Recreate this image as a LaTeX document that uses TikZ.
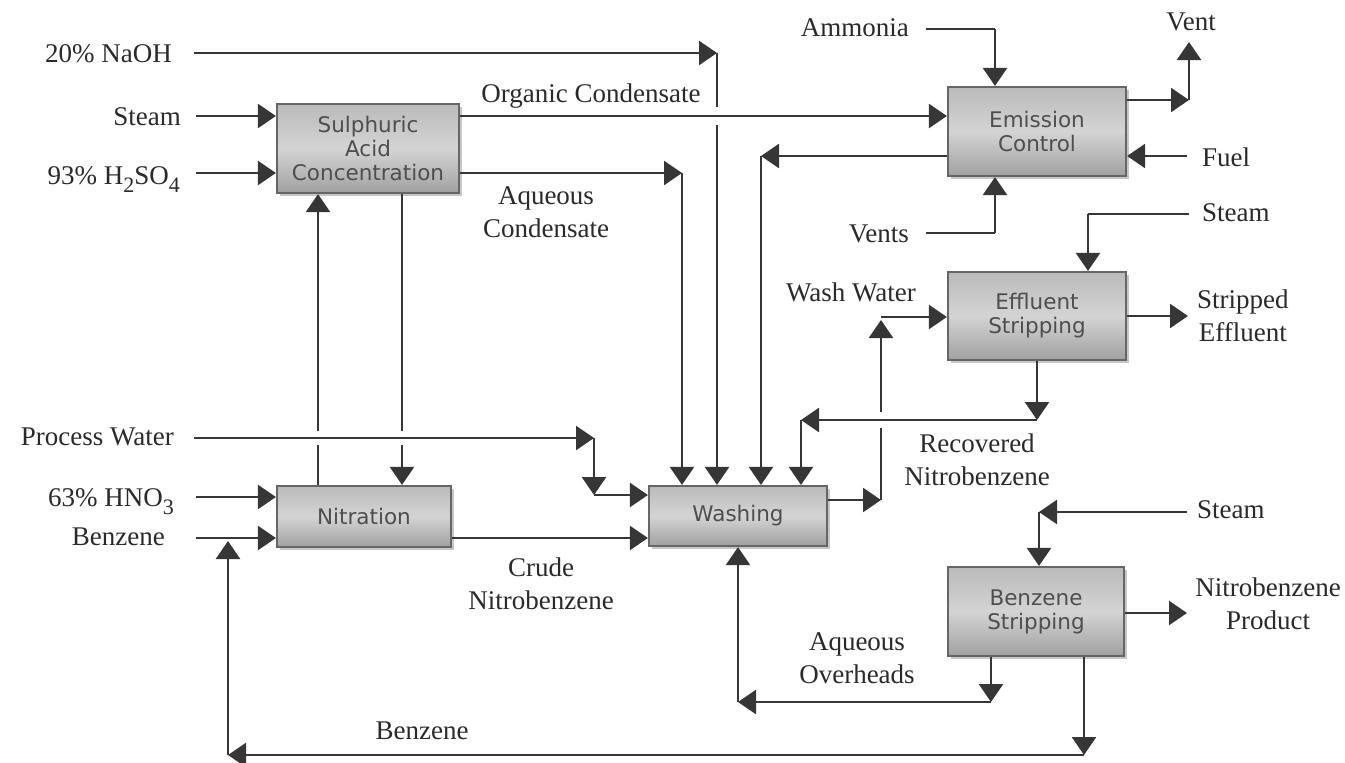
\documentclass[tikz,border=0pt]{standalone}
\usepackage{fontspec}
\setmainfont{Liberation Serif}
\newfontfamily\boxfont{DejaVu Sans}
\usetikzlibrary{arrows.meta,shadows}
\definecolor{linec}{HTML}{363636}
\definecolor{boxtop}{HTML}{BABABA}
\definecolor{boxmid}{HTML}{D4D4D4}
\definecolor{boxbot}{HTML}{A0A0A0}
\definecolor{boxline}{HTML}{666666}
\definecolor{boxtext}{HTML}{4E4E4E}
\definecolor{labtext}{HTML}{2A2A2A}
\newcommand\lowsub[1]{\raisebox{-0.32em}{\fontsize{22}{22}\selectfont #1}}
\begin{document}
\begin{tikzpicture}[x=1pt,y=-1pt,
  unit/.style={draw=boxline, line width=2.2pt, top color=boxtop, bottom color=boxbot, middle color=boxmid,
    drop shadow={shadow xshift=3pt,shadow yshift=-3pt,fill=black,opacity=0.22},
    font=\boxfont\fontsize{21.5}{24}\selectfont, text=boxtext, align=center, inner sep=0pt},
  lab/.style={font=\fontsize{27}{33}\selectfont, text=labtext, inner sep=0pt, align=center},
  fl/.style={draw=linec, line width=2.5pt, -{Triangle[length=18pt,width=24pt]}},
  ln/.style={draw=linec, line width=2.5pt},
  gapbox/.style={fill=white}
]
\useasboundingbox[fill=white] (0,0) rectangle (1345,763);

% process units
\node[unit, minimum width=182pt, minimum height=89pt] (sac) at (368,148.5) {Sulphuric\\Acid\\Concentration};
\node[unit, minimum width=178pt, minimum height=89pt] (emis) at (1037,131.5) {Emission\\Control};
\node[unit, minimum width=178pt, minimum height=88pt] (eff) at (1037,316) {Effluent\\Stripping};
\node[unit, minimum width=174pt, minimum height=61pt] (nitr) at (364,516.5) {Nitration};
\node[unit, minimum width=178pt, minimum height=60pt] (wash) at (738,516) {Washing};
\node[unit, minimum width=176pt, minimum height=89pt] (bzs) at (1036,611.5) {Benzene\\Stripping};

% labels
\node[lab, anchor=east] (lnaoh) at (172,54) {20\% NaOH};
\node[lab, anchor=east] (lsteam1) at (181,117) {Steam};
\node[lab, anchor=base east] (lacid) at (180,184) {93\% H\lowsub{2}SO\lowsub{4}};
\node[lab] (lorg) at (591,96) {Organic Condensate};
\node[lab] (laq) at (546,212) {Aqueous\\Condensate};
\node[lab, anchor=east] (lamm) at (909,28) {Ammonia};
\node[lab] (lvent) at (1191,22) {Vent};
\node[lab, anchor=west] (lfuel) at (1202,157) {Fuel};
\node[lab, anchor=east] (lvents) at (909,234) {Vents};
\node[lab, anchor=west] (lsteam2) at (1202,213) {Steam};
\node[lab] (lww) at (851,292) {Wash Water};
\node[lab, anchor=west] (lstrip) at (1197,316) {Stripped\\Effluent};
\node[lab] (lrec) at (977,460) {Recovered\\Nitrobenzene};
\node[lab, anchor=east] (lpw) at (174,437) {Process Water};
\node[lab, anchor=base east] (lhno3) at (174,506) {63\% HNO\lowsub{3}};
\node[lab, anchor=east] (lbz) at (165,537) {Benzene};
\node[lab] (lcrude) at (541,584) {Crude\\Nitrobenzene};
\node[lab, anchor=west] (lsteam3) at (1197,510) {Steam};
\node[lab] (lprod) at (1268,604) {Nitrobenzene\\Product};
\node[lab] (lao) at (857,658) {Aqueous\\Overheads};
\node[lab] (lbzb) at (422,731) {Benzene};

% coordinates (free ends and corners)
\coordinate (naohS) at (194,53);
\coordinate (naohC) at (717,53);
\coordinate (steamS) at (196,116);
\coordinate (acidS) at (196,173);
\coordinate (aqC) at (682,173);
\coordinate (retC) at (761,156);
\coordinate (ammS) at (926,29);
\coordinate (ammC) at (995,29);
\coordinate (ventsS) at (926,233);
\coordinate (ventsC) at (995,233);
\coordinate (ventC) at (1189,100);
\coordinate (ventE) at (1189,42);
\coordinate (fuelS) at (1187,156);
\coordinate (st2S) at (1189,214);
\coordinate (st2C) at (1088,214);
\coordinate (stripE) at (1188,316);
\coordinate (wwA) at (881,500);
\coordinate (wwB) at (881,317);
\coordinate (wwT) at (881,320);
\coordinate (recC) at (1037,420);
\coordinate (recT) at (801,420);
\coordinate (pwS) at (194,438);
\coordinate (pwC) at (594,438);
\coordinate (pwD) at (594,495);
\coordinate (hno3S) at (196,497);
\coordinate (bzS) at (196,538);
\coordinate (upX) at (318,300);
\coordinate (dnX) at (402,300);
\coordinate (brC) at (1084,755);
\coordinate (brD) at (228,755);
\coordinate (brE) at (228,541);
\coordinate (aoC) at (991,702);
\coordinate (aoD) at (738,702);
\coordinate (st3S) at (1187,512);
\coordinate (st3C) at (1039,512);
\coordinate (prodE) at (1187,613);

% vertical lines that are crossed
\draw[fl] (naohS) -- (naohC);
\draw[fl] (naohC) -- (naohC |- wash.north);
\draw[fl] (nitr.north -| upX) -- (upX |- sac.south);
\draw[fl] (sac.south -| dnX) -- (dnX |- nitr.north);
\draw[fl] (wash.east |- wwA) -- (wwA);
\draw[fl] (wwA) -- (wwT);
\draw[fl] (wwB) -- (eff.west |- wwB);

% line hops
\fill[gapbox] (712,107) rectangle (722,125);
\fill[gapbox] (313,431) rectangle (323,445);
\fill[gapbox] (397,431) rectangle (407,445);
\fill[gapbox] (876,412) rectangle (886,428);

% remaining streams
\draw[fl] (steamS) -- (sac.west |- steamS);
\draw[fl] (acidS) -- (sac.west |- acidS);
\draw[fl] (sac.east |- steamS) -- (emis.west |- steamS);
\draw[fl] (sac.east |- aqC) -- (aqC);
\draw[fl] (aqC) -- (aqC |- wash.north);
\draw[fl] (emis.west |- retC) -- (retC);
\draw[fl] (retC) -- (retC |- wash.north);
\draw[fl] (eff.south -| recC) -- (recC);
\draw[fl] (recC) -- (recT);
\draw[fl] (recT) -- (recT |- wash.north);
\draw[ln] (st2S) -- (st2C);
\draw[fl] (st2C) -- (st2C |- eff.north);
\draw[fl] (eff.east) -- (stripE);
\draw[ln] (ammS) -- (ammC);
\draw[fl] (ammC) -- (ammC |- emis.north);
\draw[ln] (ventsS) -- (ventsC);
\draw[fl] (ventsC) -- (ventsC |- emis.south);
\draw[fl] (emis.east |- ventC) -- (ventC);
\draw[fl] (ventC) -- (ventE);
\draw[fl] (fuelS) -- (emis.east |- fuelS);
\draw[fl] (pwS) -- (pwC);
\draw[fl] (pwC) -- (pwD);
\draw[fl] (pwD) -- (wash.west |- pwD);
\draw[fl] (hno3S) -- (nitr.west |- hno3S);
\draw[fl] (bzS) -- (nitr.west |- bzS);
\draw[fl] (nitr.east |- bzS) -- (wash.west |- bzS);
\draw[fl] (bzs.south -| brC) -- (brC);
\draw[fl] (brC) -- (brD);
\draw[fl] (brD) -- (brE);
\draw[fl] (bzs.south -| aoC) -- (aoC);
\draw[fl] (aoC) -- (aoD);
\draw[fl] (aoD) -- (aoD |- wash.south);
\draw[fl] (st3S) -- (st3C);
\draw[fl] (st3C) -- (st3C |- bzs.north);
\draw[fl] (bzs.east |- prodE) -- (prodE);
\end{tikzpicture}
\end{document}
